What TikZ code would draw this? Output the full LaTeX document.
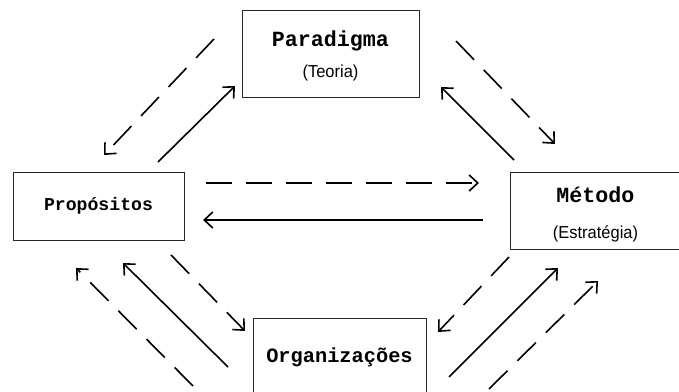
\documentclass[tikz,border=0pt]{standalone}
\usepackage{fontspec}
\usepackage{tikz}
\usetikzlibrary{arrows.meta}
\newfontfamily\boxmono{Liberation Mono}
\newfontfamily\boxsub[FakeStretch=0.95]{Liberation Sans}
\newcommand{\ttl}[2]{{\boxmono\bfseries\fontsize{#1}{#1}\selectfont #2}}
\newcommand{\sbt}[1]{{\boxsub\fontsize{13}{13}\selectfont #1}}

\begin{document}
\begin{tikzpicture}[x=0.75pt, y=-0.75pt]
	\tikzset{>={Straight Barb[length=6.5pt,width=12pt]}}
	\tikzset{box/.style={draw=black!85, line width=0.7pt, align=center, inner sep=0pt}}
	\tikzset{dsh/.style={->, line width=1.2pt, dash pattern=on 19.5pt off 10.5pt}}
	\tikzset{sld/.style={->, line width=1.2pt}}
	\useasboundingbox (0,0) rectangle (679,392);

	\node[box, minimum width=132.75pt, minimum height=65.25pt] (par) at (330.5,53.5)
		{\rule{0pt}{16pt}\ttl{16.25}{Paradigma}\\[9.5pt]\sbt{(Teoria)}};
	\node[box, minimum width=128.25pt, minimum height=51pt] (prop) at (98.5,206)
		{\ttl{13.6}{Propósitos}};
	\node[box, minimum width=128.25pt, minimum height=57.75pt] (met) at (595.5,210.5)
		{\rule{0pt}{17.5pt}\ttl{16.25}{Método}\\[15pt]\sbt{(Estratégia)}};
	\node[box, minimum width=129.75pt, minimum height=58.5pt] (org) at (339.5,357)
		{\ttl{15.25}{Organizações}};

	% ends of the arrows
	\coordinate (a1) at (214,39);  \coordinate (b1) at (104,155);
	\coordinate (a2) at (158,162); \coordinate (b2) at (235,86);
	\coordinate (a3) at (456,41);  \coordinate (b3) at (555,144);
	\coordinate (a4) at (514,160); \coordinate (b4) at (441,87);
	\coordinate (a5) at (206,183); \coordinate (b5) at (479,183);
	\coordinate (a6) at (483,220); \coordinate (b6) at (203,220);
	\coordinate (a7) at (171,255); \coordinate (b7) at (245,331);
	\coordinate (a8) at (228,367); \coordinate (b8) at (123,263);
	\coordinate (a9) at (193,386); \coordinate (b9) at (76,268);
	\coordinate (a10) at (509,257); \coordinate (b10) at (438,332);
	\coordinate (a11) at (449,377); \coordinate (b11) at (558,268);
	\coordinate (a12) at (489,389); \coordinate (b12) at (598,281);

	\draw[dsh] (a1) -- (b1);
	\draw[sld] (a2) -- (b2);
	\draw[dsh] (a3) -- (b3);
	\draw[sld] (a4) -- (b4);
	\draw[dsh] (a5) -- (b5);
	\draw[sld] (a6) -- (b6);
	\draw[dsh] (a7) -- (b7);
	\draw[sld] (a8) -- (b8);
	\draw[dsh] (a9) -- (b9);
	\draw[dsh] (a10) -- (b10);
	\draw[sld] (a11) -- (b11);
	\draw[dsh] (a12) -- (b12);
\end{tikzpicture}
\end{document}
